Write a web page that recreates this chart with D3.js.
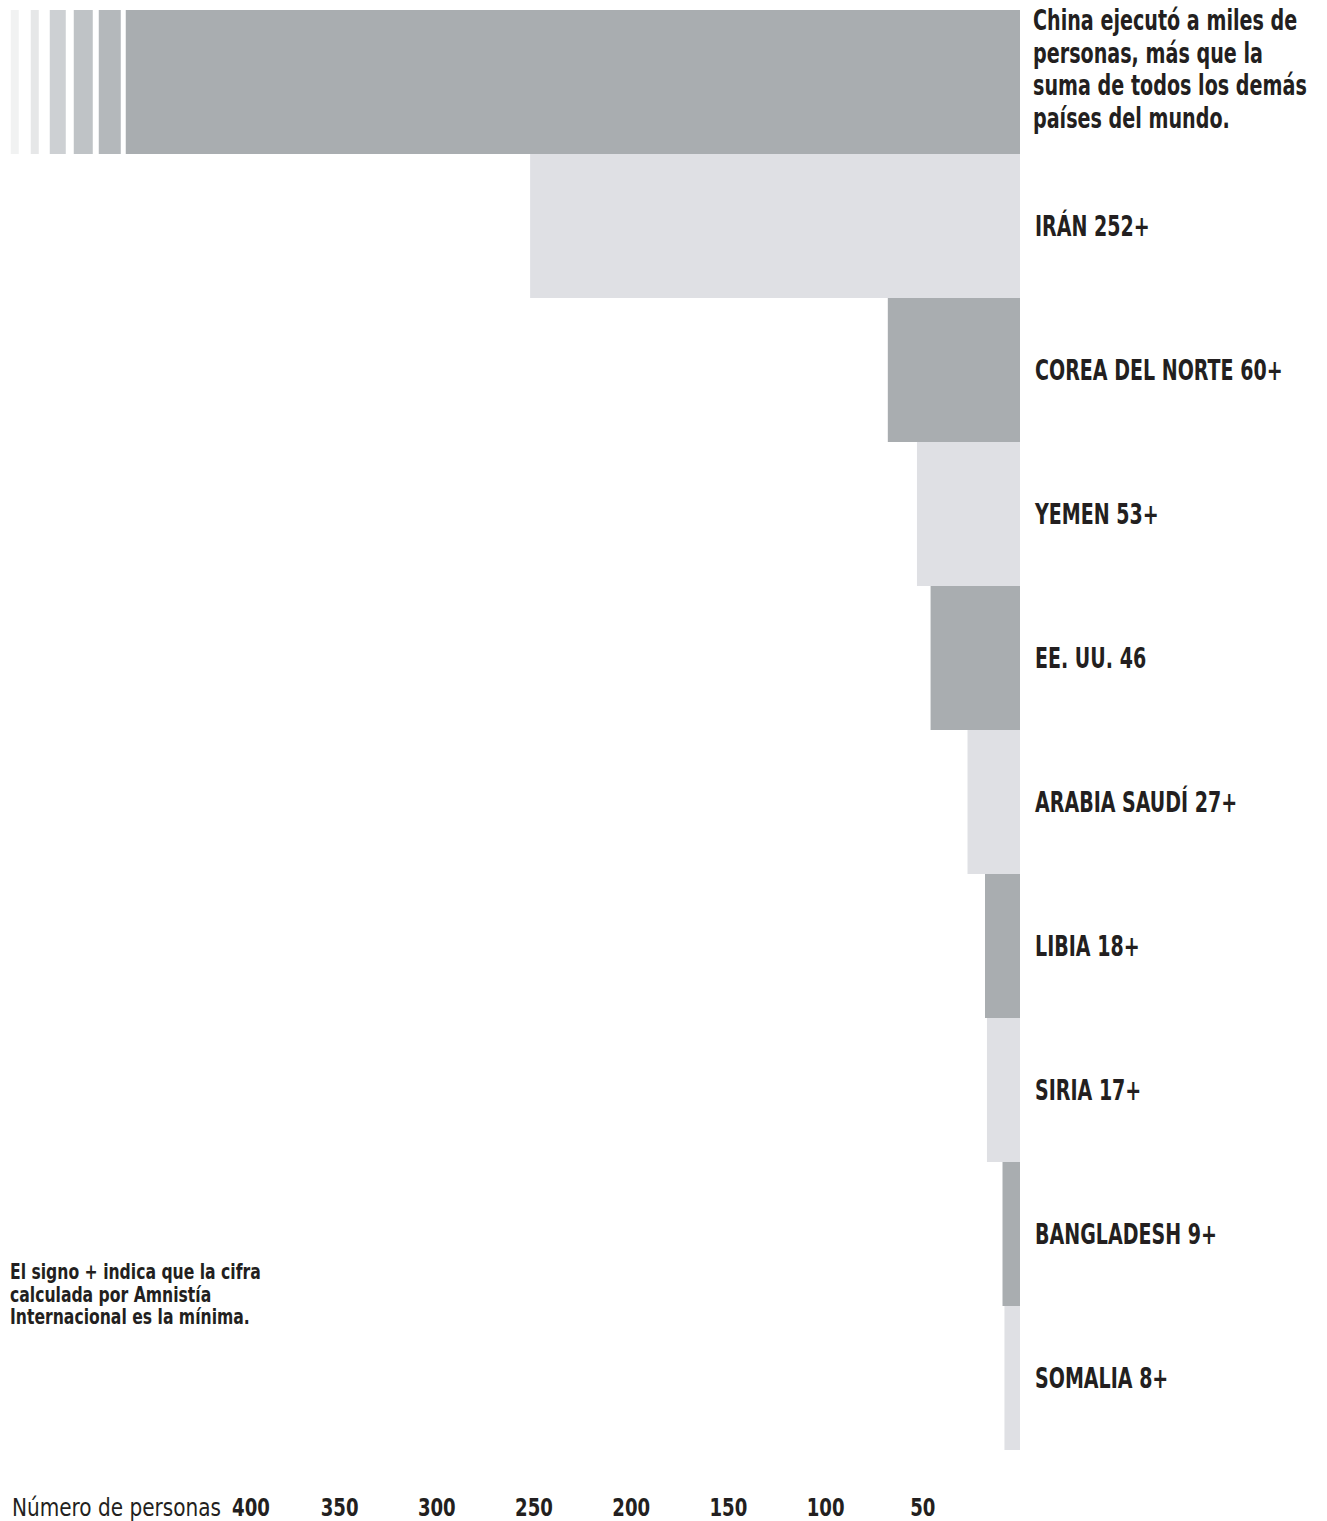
<!doctype html>
<html>
  <head>
    <meta charset="utf-8">
    <title>Ejecuciones</title>
    <script src="https://d3js.org/d3.v7.min.js"></script>
    <style type="text/css">
      body { margin: 0; background-color: #ffffff; }
      text { font-family: "Liberation Sans Narrow", "DejaVu Sans Condensed", sans-serif; fill: #231f20; }
    </style>
  </head>
  <body>
    <script>
      // data
      var countries = ["CHINA", "IRÁN", "COREA DEL NORTE", "YEMEN", "EE. UU.", "ARABIA SAUDÍ", "LIBIA", "SIRIA", "BANGLADESH", "SOMALIA"];
      var values    = [null, 252, 68, 53, 46, 27, 18, 17, 9, 8];
      var labels    = [null, "IRÁN 252+", "COREA DEL NORTE 60+", "YEMEN 53+", "EE. UU. 46", "ARABIA SAUDÍ 27+", "LIBIA 18+", "SIRIA 17+", "BANGLADESH 9+", "SOMALIA 8+"];
      var ticks     = [400, 350, 300, 250, 200, 150, 100, 50];
      var chinaNote = ["China ejecutó a miles de", "personas, más que la", "suma de todos los demás", "países del mundo."];
      var footNote  = ["El signo + indica que la cifra", "calculada por Amnistía", "Internacional es la mínima."];
      var axisTitle = "Número de personas";

      var w = 1327, h = 1521;
      var dark = "#a9adb0", light = "#dfe0e4";

      var svg = d3.select("body").append("svg")
        .attr("width", w)
        .attr("height", h);

      var x = d3.scaleLinear().domain([0, 400]).range([1020, 242.4]);
      var y = d3.scaleBand().domain(countries).range([10, 1450]).padding(0);

      // no condensed gothic font here, so squeeze the text horizontally
      function squeeze(px, py, k) {
        return "translate(" + px + "," + py + ") scale(" + k + ",1)";
      }

      // China is off the scale: draw to the edge, then fade out with stripes
      var chinaEdge = 460;
      var fade = [
        {gap: 5, w: 22, fill: "#b4b8bb"},
        {gap: 6, w: 19, fill: "#bfc3c6"},
        {gap: 8, w: 16, fill: "#cdd0d3"},
        {gap: 11, w: 8, fill: "#e6e7e8"},
        {gap: 12, w: 8, fill: "#f1f2f2"}
      ];

      var bars = svg.append("g");
      bars.selectAll("rect.bar")
        .data(countries)
        .enter()
        .append("rect")
        .attr("class", "bar")
        .attr("x", function(d, i) { return x(values[i] === null ? chinaEdge : values[i]); })
        .attr("y", function(d) { return y(d); })
        .attr("width", function(d, i) { return x(0) - x(values[i] === null ? chinaEdge : values[i]); })
        .attr("height", y.bandwidth())
        .style("fill", function(d, i) { return i % 2 === 0 ? dark : light; });

      var edge = x(chinaEdge);
      fade.forEach(function(s) {
        edge = edge - s.gap - s.w;
        bars.append("rect")
          .attr("x", edge)
          .attr("y", y("CHINA"))
          .attr("width", s.w)
          .attr("height", y.bandwidth())
          .style("fill", s.fill);
      });

      // country labels
      svg.append("g").selectAll("text")
        .data(countries.slice(1))
        .enter()
        .append("text")
        .attr("transform", function(d) { return squeeze(1035, y(d) + y.bandwidth() / 2 + 10, 0.73); })
        .style("font-size", "29px")
        .style("font-weight", "bold")
        .text(function(d, i) { return labels[i + 1]; });

      // China note
      svg.append("g").selectAll("text")
        .data(chinaNote)
        .enter()
        .append("text")
        .attr("transform", function(d, i) { return squeeze(1033, 30 + i * 32.5, 0.76); })
        .style("font-size", "28px")
        .style("font-weight", "bold")
        .text(function(d) { return d; });

      // foot note
      svg.append("g").selectAll("text")
        .data(footNote)
        .enter()
        .append("text")
        .attr("transform", function(d, i) { return squeeze(10, 1279 + i * 22.5, 0.79); })
        .style("font-size", "22px")
        .style("font-weight", "bold")
        .text(function(d) { return d; });

      // axis
      var axis = svg.append("g");
      var titleText = axis.append("text")
        .attr("transform", squeeze(12, 1516, 0.93))
        .style("font-size", "24px")
        .text(axisTitle);
      var titleEnd = 12 + titleText.node().getComputedTextLength() * 0.93;

      axis.selectAll("text.tick")
        .data(ticks)
        .enter()
        .append("text")
        .attr("class", "tick")
        .attr("text-anchor", "middle")
        .style("font-size", "24px")
        .style("font-weight", "bold")
        .text(function(d) { return d; })
        .attr("transform", function(d) {
          // keep the first tick clear of the title
          var half = this.getComputedTextLength() * 0.84 / 2;
          var cx = Math.max(x(d), titleEnd + 11 + half);
          return squeeze(cx, 1516, 0.84);
        });
    </script>
  </body>
</html>
